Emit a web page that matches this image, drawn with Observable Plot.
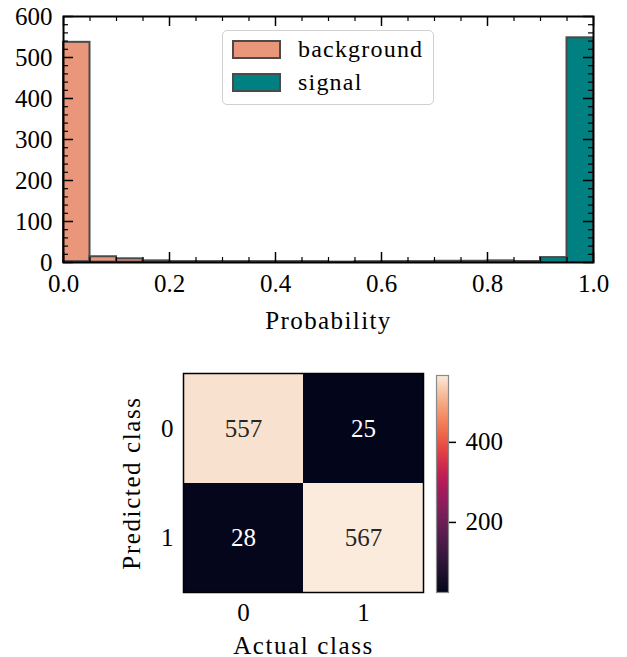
<!DOCTYPE html>
<html><head><meta charset="utf-8">
<script src="https://cdn.jsdelivr.net/npm/d3@7"></script>
<script src="https://cdn.jsdelivr.net/npm/@observablehq/plot@0.6"></script>
<style>
body{margin:0;background:#fff;}
#wrap{position:relative;width:627px;height:657px;font-family:"Liberation Serif",serif;overflow:hidden;}
#wrap > *{position:absolute;}
#legend{left:222px;top:30px;width:212px;height:75px;box-sizing:border-box;border:1.5px solid #d0d0d0;border-radius:5px;background:rgba(255,255,255,0.85);}
#legend .patch{position:absolute;left:9px;width:45px;height:15px;border:2px solid #4a4a4a;}
#legend .lab{position:absolute;left:75px;font-size:24px;line-height:24px;letter-spacing:1.2px;color:#000;font-family:"Liberation Serif",serif;}
</style></head><body><div id="wrap"></div>
<script>
// ---- data ----
const binStarts = [0.00,0.05,0.10,0.15,0.20,0.25,0.30,0.35,0.40,0.45,0.50,0.55,0.60,0.65,0.70,0.75,0.80,0.85,0.90,0.95];
const binWidth = 0.05;
const backgroundCounts = [537,14,9,4,2,2,1,2,1,2,1,0,2,1,2,2,1,2,1,3];
const signalCounts     = [2,1,1,2,1,1,2,1,2,1,0,2,1,2,3,3,4,2,12,548];
const seriesNames = ["background","signal"];
const seriesColors = ["#E9967A","#008080"];
const xMajorTicks = [0,0.2,0.4,0.6,0.8,1.0];
const xMinorTicks = [0.05,0.1,0.15,0.25,0.3,0.35,0.45,0.5,0.55,0.65,0.7,0.75,0.85,0.9,0.95];
const yMajorTicks = [0,100,200,300,400,500,600];
const yMinorTicks = d3.range(20,600,20).filter(v=>v%100!==0);
const actualClasses = ["0","1"];
const predictedClasses = ["0","1"];
const confusionRows = [[557,25],[28,567]]; // rows: predicted, cols: actual
const colorbarTicks = [200,400];
const rocketStops = ["#03051A","#221331","#411A46","#631E53","#89205D","#B0175B","#D62A4A","#ED5A3F","#F4875E","#F6B48F","#FAEBDD"];

const wrap = document.getElementById("wrap");
const FONT = "'Liberation Serif', serif";
const font = {fontFamily:FONT, fontSize:"25px", color:"#000", background:"transparent"};

// widen word labels a little (Computer Modern is wider than Times)
function spaceWords(svg, spacing){
  d3.select(svg).selectAll("text").filter(function(){ return /[A-Za-z]/.test(this.textContent); })
    .attr("letter-spacing", spacing);
}

// ---- histogram ----
const H1 = 345, mt1 = 16, mb1 = H1-262, ml1 = 63, mr1 = 34;
const innerH1 = H1-mt1-mb1, innerW1 = 627-ml1-mr1;
const histData = [];
binStarts.forEach((b,i)=>histData.push({series:seriesNames[0], x1:b, x2:b+binWidth, count:backgroundCounts[i]}));
binStarts.forEach((b,i)=>histData.push({series:seriesNames[1], x1:b, x2:b+binWidth, count:signalCounts[i]}));

const hist = Plot.plot({
  width:627, height:H1, marginTop:mt1, marginBottom:mb1, marginLeft:ml1, marginRight:mr1,
  style:font,
  x:{domain:[0,1]},
  y:{domain:[0,600]},
  color:{domain:seriesNames, range:seriesColors},
  marks:[
    Plot.rectY(histData.filter(d=>d.series===seriesNames[0]), {x1:"x1", x2:"x2", y:"count", fill:"series", stroke:"#4a4a4a", strokeWidth:2}),
    Plot.rectY(histData.filter(d=>d.series===seriesNames[1]), {x1:"x1", x2:"x2", y:"count", fill:"series", stroke:"#4a4a4a", strokeWidth:2}),
    // inward ticks on all four sides
    Plot.ruleX(xMajorTicks, {insetTop:innerH1-10, stroke:"#000", strokeWidth:1.5}),
    Plot.ruleX(xMajorTicks, {insetBottom:innerH1-10, stroke:"#000", strokeWidth:1.5}),
    Plot.ruleX(xMinorTicks, {insetTop:innerH1-5, stroke:"#000", strokeWidth:1.2}),
    Plot.ruleX(xMinorTicks, {insetBottom:innerH1-5, stroke:"#000", strokeWidth:1.2}),
    Plot.ruleY(yMajorTicks, {insetRight:innerW1-10, stroke:"#000", strokeWidth:1.5}),
    Plot.ruleY(yMajorTicks, {insetLeft:innerW1-10, stroke:"#000", strokeWidth:1.5}),
    Plot.ruleY(yMinorTicks, {insetRight:innerW1-5, stroke:"#000", strokeWidth:1.2}),
    Plot.ruleY(yMinorTicks, {insetLeft:innerW1-5, stroke:"#000", strokeWidth:1.2}),
    Plot.frame({stroke:"#000", strokeWidth:2}),
    Plot.axisX(xMajorTicks, {tickSize:0, tickPadding:12, tickFormat:d3.format(".1f"), label:null, fontFamily:FONT}),
    Plot.axisY(yMajorTicks, {tickSize:0, tickPadding:11, label:null, fontFamily:FONT}),
    Plot.text(["Probability"], {frameAnchor:"bottom", dy:58, lineAnchor:"middle", textAnchor:"middle", fontFamily:FONT})
  ]
});
spaceWords(hist, "1.4px");
hist.style.left = "0px"; hist.style.top = "0px";
wrap.appendChild(hist);

// legend (HTML overlay inside the plot area)
const leg = document.createElement("div");
leg.id = "legend";
seriesNames.forEach((name,i)=>{
  const p = document.createElement("div");
  p.className = "patch";
  p.style.top = (9 + i*33) + "px";
  p.style.background = seriesColors[i];
  leg.appendChild(p);
  const t = document.createElement("div");
  t.className = "lab";
  t.style.top = (6 + i*33) + "px";
  t.textContent = name;
  leg.appendChild(t);
});
wrap.appendChild(leg);

// ---- confusion matrix ----
const rocket = d3.interpolateRgbBasis(rocketStops);
const cmMin = d3.min(confusionRows.flat()), cmMax = d3.max(confusionRows.flat());
const cells = [];
predictedClasses.forEach((p,i)=>actualClasses.forEach((a,j)=>cells.push({actual:a, predicted:p, value:confusionRows[i][j]})));

const H2 = 312;
const heat = Plot.plot({
  width:627, height:H2, marginTop:28, marginBottom:65, marginLeft:183, marginRight:204,
  style:font,
  x:{domain:actualClasses, padding:0},
  y:{domain:predictedClasses, padding:0},
  color:{type:"linear", domain:[cmMin,cmMax], interpolate:rocket},
  marks:[
    Plot.cell(cells, {x:"actual", y:"predicted", fill:"value"}),
    Plot.text(cells, {x:"actual", y:"predicted", text:d=>String(d.value), fill:d=>d.value>(cmMin+cmMax)/2?"#262626":"#ffffff", fontFamily:FONT}),
    Plot.frame({stroke:"#000", strokeWidth:1.5}),
    Plot.axisX({tickSize:0, tickPadding:11, label:null, fontFamily:FONT}),
    Plot.axisY({tickSize:0, tickPadding:10, label:null, fontFamily:FONT}),
    Plot.text(["Actual class"], {frameAnchor:"bottom", dy:53, lineAnchor:"middle", textAnchor:"middle", fontFamily:FONT}),
    Plot.text(["Predicted class"], {frameAnchor:"left", dx:-52, rotate:-90, lineAnchor:"middle", textAnchor:"middle", fontFamily:FONT})
  ]
});
spaceWords(heat, "1.6px");
heat.style.left = "0px"; heat.style.top = "345px";
wrap.appendChild(heat);

// ---- colorbar ----
const cbar = Plot.plot({
  width:110, height:H2, marginTop:30, marginBottom:65, marginLeft:10, marginRight:88,
  style:font,
  x:{domain:[0,1], axis:null},
  y:{domain:[cmMin,cmMax]},
  color:{type:"linear", domain:[cmMin,cmMax], interpolate:rocket},
  marks:[
    Plot.raster({fill:(x,y)=>y, x1:0, x2:1, y1:cmMin, y2:cmMax, width:1, height:300, imageRendering:"auto"}),
    Plot.frame({stroke:"#8a8a8a", strokeWidth:1.2}),
    Plot.axisY(colorbarTicks, {anchor:"right", tickSize:7, tickPadding:10, label:null, strokeWidth:1.5, fontFamily:FONT})
  ]
});
cbar.style.left = "426px"; cbar.style.top = "345px";
wrap.appendChild(cbar);
</script>
</body></html>
